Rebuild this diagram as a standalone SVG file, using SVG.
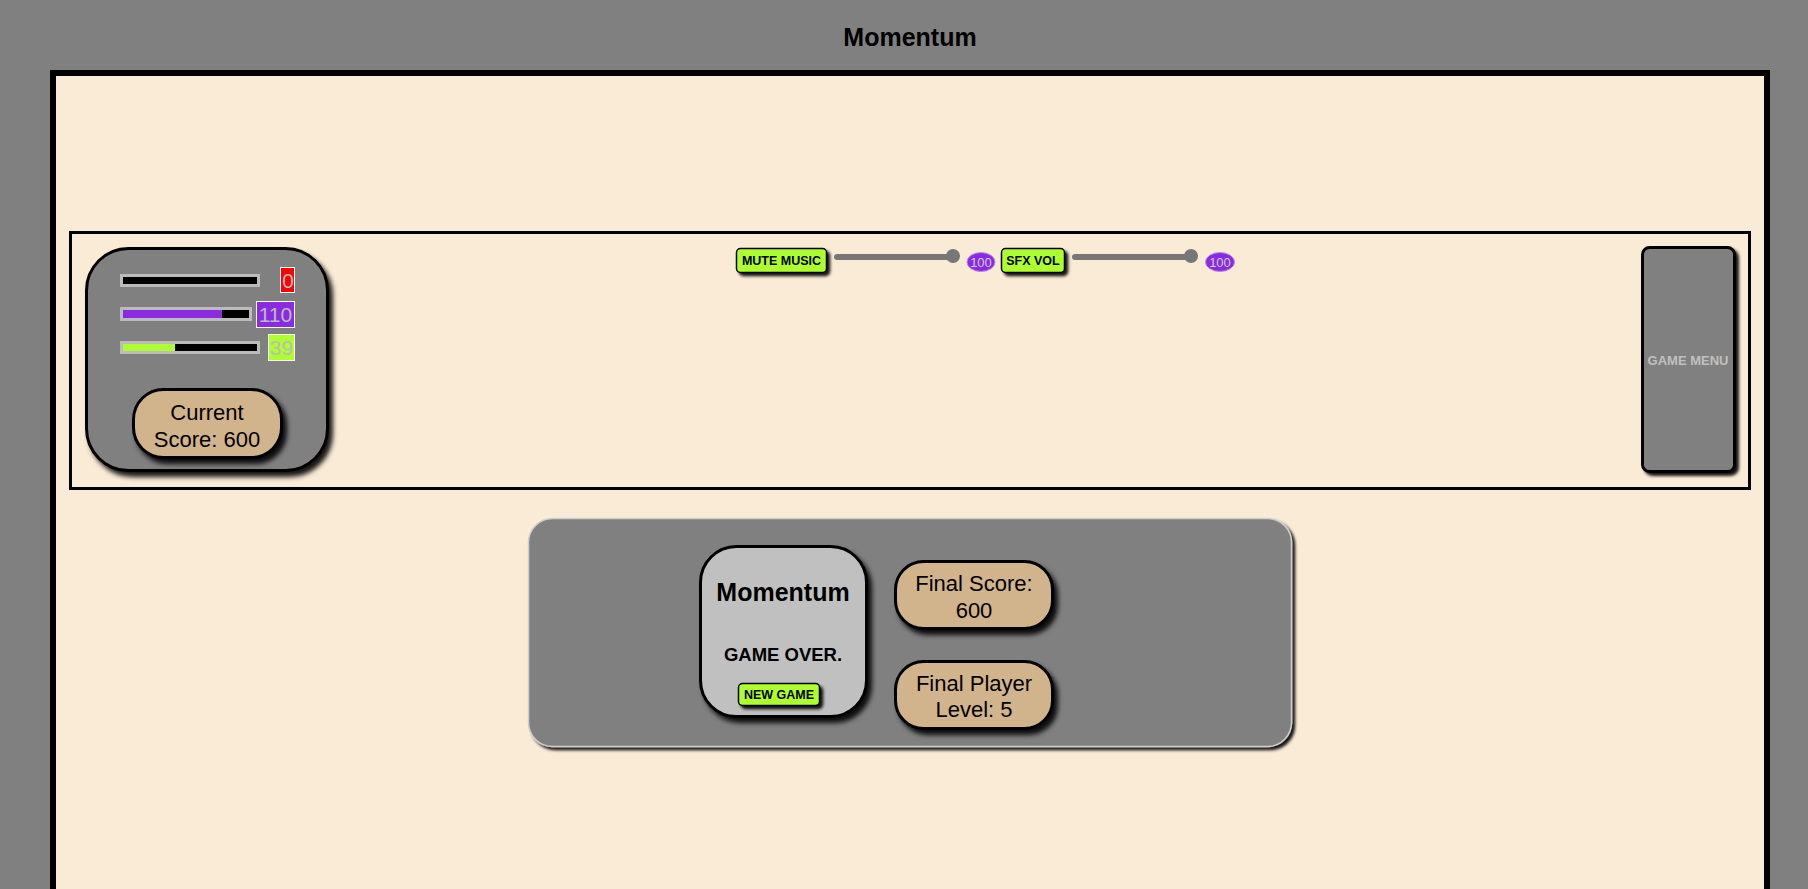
<svg xmlns="http://www.w3.org/2000/svg" width="1808" height="889" viewBox="0 0 1808 889">
<defs>
<filter id="sh" x="-20%" y="-20%" width="150%" height="150%">
<feDropShadow dx="4" dy="5" stdDeviation="2.5" flood-color="#000" flood-opacity="0.9"/>
</filter>
<filter id="shs" x="-20%" y="-30%" width="150%" height="170%">
<feDropShadow dx="3" dy="3" stdDeviation="1.5" flood-color="#000" flood-opacity="0.9"/>
</filter>
</defs>
<style>
.t{font-family:"Liberation Sans","Noto Sans",Arial,sans-serif}
.b{font-weight:bold}
.panel{fill:#808080;stroke:#000;stroke-width:3}
.tan{fill:#D2B48C;stroke:#000;stroke-width:3}
.btn{fill:#ADFF2F;stroke:#000;stroke-width:1.5}
.bar{fill:#000;stroke:#BBBBBB;stroke-width:3}
.val{stroke:#fff;stroke-width:1}
.vt{font-family:"Liberation Sans","Noto Sans",Arial,sans-serif;fill:#BBBBBB;font-size:21px;text-anchor:middle}
.track{stroke:#777;stroke-width:6;stroke-linecap:round}
.pill{fill:#8A2BE2;stroke:#b58ae0;stroke-width:1}
.pt{font-family:"Liberation Sans","Noto Sans",Arial,sans-serif;fill:#ccc;font-size:13px;text-anchor:middle}
.bt{font-family:"Liberation Sans","Noto Sans",Arial,sans-serif;font-weight:bold;font-size:12.5px;fill:#000;text-anchor:middle}
.lt{font-family:"Liberation Sans","Noto Sans",Arial,sans-serif;font-size:22px;fill:#000;text-anchor:middle}
</style>
<rect x="0" y="0" width="1808" height="889" fill="#808080"/>
<text class="t b" x="910" y="46" font-size="25" text-anchor="middle" fill="#000">Momentum</text>
<rect id="outer" x="53" y="73" width="1714" height="830" fill="#FAEBD7" stroke="#000" stroke-width="6"/>
<rect id="hud" x="70.5" y="232.5" width="1679" height="256" fill="none" stroke="#000" stroke-width="3"/>

<g id="stats">
<rect class="panel" x="86.5" y="248.5" width="241" height="222" rx="42" filter="url(#sh)"/>
<rect class="bar" x="121.5" y="275.5" width="137" height="10"/>
<rect class="val" x="280.5" y="267.5" width="14" height="25" fill="#FF0000"/>
<text class="vt" x="288" y="288">0</text>
<rect class="bar" x="121.5" y="308.5" width="129" height="11"/>
<rect x="123" y="310" width="99" height="8" fill="#8A2BE2"/>
<rect class="val" x="256.5" y="301.5" width="38" height="26" fill="#8A2BE2"/>
<text class="vt" x="275.5" y="322">110</text>
<rect class="bar" x="121.5" y="342.5" width="137" height="10"/>
<rect x="123" y="344" width="52" height="7" fill="#ADFF2F"/>
<rect class="val" x="268.5" y="334.5" width="26" height="26" fill="#ADFF2F"/>
<text class="vt" x="281.5" y="355">39</text>
<g id="current-score">
<rect class="tan" x="133.5" y="389.5" width="148" height="68" rx="30" filter="url(#sh)"/>
<text class="lt" x="207" y="420">Current</text>
<text class="lt" x="207" y="447">Score: 600</text>
</g>
</g>

<g id="audio">
<g id="mute-music">
<rect class="btn" x="736.5" y="248.5" width="90" height="24" rx="4" filter="url(#shs)"/>
<text class="bt" x="781.5" y="265">MUTE MUSIC</text>
</g>
<line class="track" x1="837" y1="257" x2="951" y2="257"/>
<circle cx="953" cy="256" r="7" fill="#777"/>
<ellipse class="pill" cx="981" cy="262" rx="14" ry="9.5"/>
<text class="pt" x="981" y="266.5">100</text>
<g id="sfx-vol">
<rect class="btn" x="1001.5" y="248.5" width="63" height="24" rx="4" filter="url(#shs)"/>
<text class="bt" x="1033" y="265">SFX VOL</text>
</g>
<line class="track" x1="1075" y1="257" x2="1189" y2="257"/>
<circle cx="1191" cy="256" r="7" fill="#777"/>
<ellipse class="pill" cx="1220" cy="262" rx="14.5" ry="9.5"/>
<text class="pt" x="1220" y="266.5">100</text>
</g>

<g id="game-menu">
<rect class="panel" x="1642.5" y="247.5" width="92" height="224" rx="7" filter="url(#shs)"/>
<text class="t b" x="1688" y="365" font-size="13" text-anchor="middle" fill="#C0C0C0">GAME MENU</text>
</g>

<g id="game-over-panel">
<rect x="528.5" y="518.5" width="763" height="228" rx="24" fill="#808080" stroke="#cfcfcf" stroke-width="1.5" filter="url(#shs)"/>
<g id="title-card">
<rect x="700.5" y="546.5" width="166" height="170" rx="36" fill="#C0C0C0" stroke="#000" stroke-width="3" filter="url(#sh)"/>
<text class="t b" x="783" y="601" font-size="25" text-anchor="middle" fill="#000">Momentum</text>
<text class="t b" x="783" y="661" font-size="18.5" text-anchor="middle" fill="#000">GAME OVER.</text>
<g id="new-game">
<rect class="btn" x="738.5" y="683.5" width="81" height="22" rx="4" filter="url(#shs)"/>
<text class="bt" x="779" y="699">NEW GAME</text>
</g>
</g>
<g id="final-score">
<rect class="tan" x="895.5" y="561.5" width="157" height="67" rx="28" filter="url(#sh)"/>
<text class="lt" x="974" y="591">Final Score:</text>
<text class="lt" x="974" y="618">600</text>
</g>
<g id="final-level">
<rect class="tan" x="895.5" y="661.5" width="157" height="67" rx="28" filter="url(#sh)"/>
<text class="lt" x="974" y="691">Final Player</text>
<text class="lt" x="974" y="717">Level: 5</text>
</g>
</g>
<g id="connectors"/>
</svg>
